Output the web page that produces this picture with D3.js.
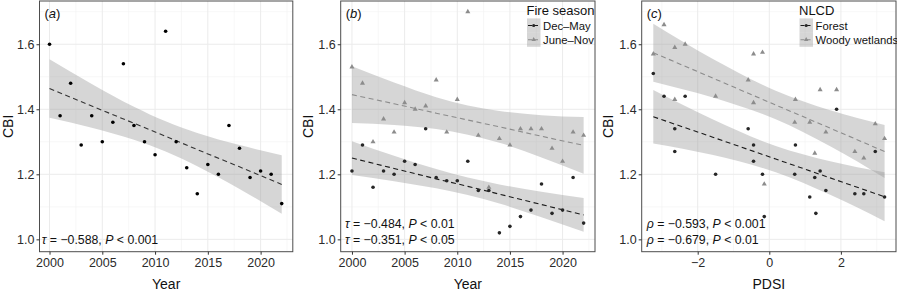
<!DOCTYPE html>
<html>
<head>
<meta charset="utf-8">
<script src="https://cdn.jsdelivr.net/npm/d3@7"></script>
<style>
  body { margin: 0; background: #fff; }
  svg text { font-family: "Liberation Sans", Arial, Helvetica, sans-serif; }
</style>
</head>
<body>
<div id="chart"></div>
<script>
// ---- data ----
const years = [2000, 2001, 2002, 2003, 2004, 2005, 2006, 2007, 2008, 2009, 2010, 2011,
  2012, 2013, 2014, 2015, 2016, 2017, 2018, 2019, 2020, 2021, 2022];

// (a) all fires
const cbiAll = [1.60, 1.38, 1.48, 1.29, 1.38, 1.30, 1.36, 1.54, 1.35, 1.30, 1.26, 1.64,
  1.30, 1.22, 1.14, 1.23, 1.20, 1.35, 1.28, 1.19, 1.21, 1.20, 1.11];

// (b) fire season
const cbiDecMay = [1.21, 1.29, 1.16, 1.21, 1.20, 1.24, 1.23, 1.34, 1.19, 1.18, 1.18, 1.24,
  1.15, 1.15, 1.02, 1.04, 1.07, 1.09, 1.17, 1.08, 1.09, 1.19, 1.05];
const cbiJuneNov = [1.53, 1.48, 1.30, 1.37, 1.33, 1.42, 1.40, 1.41, 1.49, 1.33, 1.43, 1.70,
  1.32, 1.16, 1.31, 1.29, 1.34, 1.34, 1.34, 1.28, 1.24, 1.33, 1.32];

// (c) PDSI vs CBI by land cover
const pdsi = [-3.24, -2.94, -2.64, -2.64, -2.35, -1.50, -0.59, -0.44, -0.44, -0.19, -0.14,
  0.73, 0.71, 1.13, 1.27, 1.30, 1.42, 1.58, 1.88, 2.39, 2.64, 2.96, 3.22];
const cbiForest = [1.51, 1.44, 1.34, 1.27, 1.44, 1.20, 1.34, 1.29, 1.24, 1.20, 1.07,
  1.29, 1.20, 1.13, 1.19, 1.08, 1.21, 1.15, 1.40, 1.14, 1.14, 1.27, 1.13];
const cbiWetland = [1.57, 1.66, 1.59, 1.43, 1.60, 1.44, 1.49, 1.57, 1.42, 1.575, 1.17,
  1.43, 1.36, 1.36, 1.265, null, 1.46, 1.33, 1.46, 1.27, 1.25, 1.355, 1.31];

// fitted trend + confidence band
const fitYears = [2000, 2004, 2008, 2011, 2014, 2018, 2022];
const fitAll = [1.464, 1.410, 1.357, 1.317, 1.276, 1.223, 1.169];
const fitAllLo = [1.374, 1.343, 1.306, 1.270, 1.225, 1.155, 1.079];
const fitAllHi = [1.554, 1.478, 1.408, 1.363, 1.327, 1.290, 1.259];

const fitDecMay = [1.250, 1.218, 1.186, 1.163, 1.139, 1.107, 1.075];
const fitDecMayLo = [1.198, 1.179, 1.157, 1.136, 1.110, 1.068, 1.023];
const fitDecMayHi = [1.302, 1.257, 1.216, 1.190, 1.169, 1.146, 1.127];
const fitJuneNov = [1.445, 1.417, 1.388, 1.367, 1.346, 1.317, 1.289];
const fitJuneNovLo = [1.358, 1.352, 1.339, 1.322, 1.297, 1.252, 1.202];
const fitJuneNovHi = [1.532, 1.482, 1.437, 1.412, 1.395, 1.382, 1.376];

const fitPdsi = [-3.24, -1.6, 0.18, 1.7, 3.22];
const fitForest = [1.377, 1.315, 1.247, 1.189, 1.131];
const fitForestLo = [1.295, 1.260, 1.206, 1.137, 1.056];
const fitForestHi = [1.459, 1.370, 1.287, 1.240, 1.206];
const fitWetland = [1.574, 1.497, 1.413, 1.342, 1.270];
const fitWetlandLo = [1.485, 1.437, 1.369, 1.286, 1.189];
const fitWetlandHi = [1.663, 1.556, 1.457, 1.397, 1.352];

// ticks / labels
const yTicks = [1.0, 1.2, 1.4, 1.6];
const yMinor = [1.1, 1.3, 1.5, 1.7];
const yearTicks = [2000, 2005, 2010, 2015, 2020];
const yearMinor = [2002.5, 2007.5, 2012.5, 2017.5, 2022.5];
const pdsiTicks = [-2, 0, 2];
const pdsiMinor = [-3, -1, 1, 3];

const statsA = [["τ", "−0.588", "0.001"]];
const statsB = [["τ", "−0.484", "0.01"], ["τ", "−0.351", "0.05"]];
const statsC = [["ρ", "−0.593", "0.001"], ["ρ", "−0.679", "0.01"]];

const seasonLabels = ["Dec–May", "June–Nov"];
const coverLabels = ["Forest", "Woody wetlands"];

// ---- drawing ----
const width = 897;
const height = 291;
const plotTop = 1;
const plotBottom = 251.7;

const svg = d3
  .select("#chart")
  .append("svg")
  .attr("width", width)
  .attr("height", height);

const y = d3.scaleLinear().domain([0.962, 1.733]).range([plotBottom, plotTop]);

const dark = "#1a1a1a";
const grey = "#8c8c8c";

function toPoints(xs, ys) {
  return xs.map((d, i) => ({ x: d, y: ys[i] })).filter((d) => d.y != null);
}
function toBand(xs, fit, lo, hi) {
  return xs.map((d, i) => ({ x: d, fit: fit[i], lo: lo[i], hi: hi[i] }));
}

function drawPanel(p) {
  const g = svg.append("g");
  const x = d3.scaleLinear().domain(p.xDomain).range(p.xRange);
  const left = p.xRange[0];
  const right = p.xRange[1];

  // grid
  g.selectAll(".minorx")
    .data(p.xMinor.filter((d) => x(d) < right))
    .enter()
    .append("line")
    .attr("x1", (d) => x(d))
    .attr("x2", (d) => x(d))
    .attr("y1", plotTop)
    .attr("y2", plotBottom)
    .attr("stroke", "#f2f2f2")
    .attr("stroke-width", 0.6);
  g.selectAll(".minory")
    .data(yMinor)
    .enter()
    .append("line")
    .attr("x1", left)
    .attr("x2", right)
    .attr("y1", (d) => y(d))
    .attr("y2", (d) => y(d))
    .attr("stroke", "#f2f2f2")
    .attr("stroke-width", 0.6);
  g.selectAll(".majorx")
    .data(p.xTicks)
    .enter()
    .append("line")
    .attr("x1", (d) => x(d))
    .attr("x2", (d) => x(d))
    .attr("y1", plotTop)
    .attr("y2", plotBottom)
    .attr("stroke", "#ebebeb")
    .attr("stroke-width", 1);
  g.selectAll(".majory")
    .data(yTicks)
    .enter()
    .append("line")
    .attr("x1", left)
    .attr("x2", right)
    .attr("y1", (d) => y(d))
    .attr("y2", (d) => y(d))
    .attr("stroke", "#ebebeb")
    .attr("stroke-width", 1);

  const area = d3
    .area()
    .x((d) => x(d.x))
    .y0((d) => y(d.lo))
    .y1((d) => y(d.hi))
    .curve(d3.curveMonotoneX);
  const line = d3
    .line()
    .x((d) => x(d.x))
    .y((d) => y(d.fit));

  // ribbons
  p.series.forEach((s) => {
    g.append("path")
      .datum(s.band)
      .attr("fill", "#999999")
      .attr("fill-opacity", 0.4)
      .attr("d", area);
  });

  // stats text
  p.stats.forEach((st, i) => {
    const t = g
      .append("text")
      .attr("x", left + p.statDx)
      .attr("y", y(1.0 + 0.049 * (p.stats.length - 1 - i)))
      .attr("dy", "0.36em")
      .attr("font-size", 12.3)
      .attr("fill", "#111");
    t.append("tspan").attr("font-style", "italic").text(st[0]);
    t.append("tspan").text(" = " + st[1] + ", ");
    t.append("tspan").attr("font-style", "italic").text("P");
    t.append("tspan").text(" < " + st[2]);
  });

  // trend lines + points
  p.series.forEach((s) => {
    g.append("path")
      .datum(s.band)
      .attr("fill", "none")
      .attr("stroke", s.lineColor)
      .attr("stroke-width", 1.1)
      .attr("stroke-dasharray", "5,3.5")
      .attr("d", line);

    if (s.shape === "triangle") {
      g.selectAll(null)
        .data(s.points)
        .enter()
        .append("path")
        .attr("d", d3.symbol().type(d3.symbolTriangle).size(11))
        .attr("transform", (d) => `translate(${x(d.x)},${y(d.y)})`)
        .attr("fill", s.pointColor);
    } else {
      g.selectAll(null)
        .data(s.points)
        .enter()
        .append("circle")
        .attr("cx", (d) => x(d.x))
        .attr("cy", (d) => y(d.y))
        .attr("r", 1.8)
        .attr("fill", s.pointColor);
    }
  });

  // panel border
  g.append("rect")
    .attr("x", left)
    .attr("y", plotTop)
    .attr("width", right - left)
    .attr("height", plotBottom - plotTop)
    .attr("fill", "none")
    .attr("stroke", "#4d4d4d")
    .attr("stroke-width", 1);

  // tag
  const tag = g
    .append("text")
    .attr("x", left + 5)
    .attr("y", 18)
    .attr("font-size", 13)
    .attr("fill", "#111");
  tag.append("tspan").text("(");
  tag.append("tspan").attr("font-style", "italic").text(p.tag);
  tag.append("tspan").text(")");

  // axes
  const yAxis = g
    .append("g")
    .attr("transform", `translate(${left},0)`)
    .call(d3.axisLeft(y).tickValues(yTicks).tickFormat(d3.format(".1f")).tickSize(3).tickPadding(2));
  const xAxis = g
    .append("g")
    .attr("transform", `translate(0,${plotBottom})`)
    .call(d3.axisBottom(x).tickValues(p.xTicks).tickFormat(d3.format("d")).tickSize(3).tickPadding(3));
  [yAxis, xAxis].forEach((a) => {
    a.select(".domain").remove();
    a.selectAll(".tick line").attr("stroke", "#333");
    a.selectAll(".tick text")
      .attr("font-size", 12.5)
      .attr("fill", "#2b2b2b")
      .attr("font-family", '"Liberation Sans", Arial, sans-serif');
  });

  g.append("text")
    .attr("x", (left + right) / 2)
    .attr("y", 289)
    .attr("text-anchor", "middle")
    .attr("font-size", 14)
    .attr("fill", "#111")
    .text(p.xTitle);
  g.append("text")
    .attr("transform", `translate(${p.yTitleX},${(plotTop + plotBottom) / 2}) rotate(-90)`)
    .attr("text-anchor", "middle")
    .attr("font-size", 14)
    .attr("fill", "#111")
    .text("CBI");

  // legend
  if (p.legend) {
    const lg = g.append("g").attr("transform", `translate(${p.legend.x},0)`);
    lg.append("text")
      .attr("x", 0)
      .attr("y", 15)
      .attr("font-size", 13)
      .attr("fill", "#111")
      .text(p.legend.title);
    p.series.forEach((s, i) => {
      const cy = 25.5 + i * 14.2;
      lg.append("rect")
        .attr("x", 0.5)
        .attr("y", cy - 7.1)
        .attr("width", 13.5)
        .attr("height", 14.2)
        .attr("fill", "#999999")
        .attr("fill-opacity", 0.4);
      lg.append("line")
        .attr("x1", 1.5)
        .attr("x2", 13)
        .attr("y1", cy)
        .attr("y2", cy)
        .attr("stroke", s.lineColor)
        .attr("stroke-width", 1.1)
        .attr("stroke-dasharray", "4,2");
      if (s.shape === "triangle") {
        lg.append("path")
          .attr("d", d3.symbol().type(d3.symbolTriangle).size(9))
          .attr("transform", `translate(7.2,${cy})`)
          .attr("fill", s.pointColor);
      } else {
        lg.append("circle").attr("cx", 7.2).attr("cy", cy).attr("r", 1.6).attr("fill", s.pointColor);
      }
      lg.append("text")
        .attr("x", 16.5)
        .attr("y", cy)
        .attr("dy", "0.36em")
        .attr("font-size", 11.3)
        .attr("fill", "#111")
        .text(p.legend.labels[i]);
    });
  }
}

drawPanel({
  tag: "a",
  xDomain: [1999.05, 2023.05],
  xRange: [39.5, 292.8],
  xTicks: yearTicks,
  xMinor: yearMinor,
  xTitle: "Year",
  yTitleX: 13,
  statDx: 2.3,
  stats: statsA,
  series: [
    {
      points: toPoints(years, cbiAll),
      band: toBand(fitYears, fitAll, fitAllLo, fitAllHi),
      shape: "circle",
      pointColor: "#000",
      lineColor: "#333"
    }
  ]
});

drawPanel({
  tag: "b",
  xDomain: [1998.93, 2023.08],
  xRange: [340.7, 595],
  xTicks: yearTicks,
  xMinor: yearMinor,
  xTitle: "Year",
  yTitleX: 313,
  statDx: 4.3,
  stats: statsB,
  legend: { x: 526.5, title: "Fire season", labels: seasonLabels },
  series: [
    {
      points: toPoints(years, cbiDecMay),
      band: toBand(fitYears, fitDecMay, fitDecMayLo, fitDecMayHi),
      shape: "circle",
      pointColor: "#262626",
      lineColor: dark
    },
    {
      points: toPoints(years, cbiJuneNov),
      band: toBand(fitYears, fitJuneNov, fitJuneNovLo, fitJuneNovHi),
      shape: "triangle",
      pointColor: grey,
      lineColor: grey
    }
  ]
});

drawPanel({
  tag: "c",
  xDomain: [-3.564, 3.539],
  xRange: [641.7, 896],
  xTicks: pdsiTicks,
  xMinor: pdsiMinor,
  xTitle: "PDSI",
  yTitleX: 613,
  statDx: 5,
  stats: statsC,
  legend: { x: 799, title: "NLCD", labels: coverLabels },
  series: [
    {
      points: toPoints(pdsi, cbiForest),
      band: toBand(fitPdsi, fitForest, fitForestLo, fitForestHi),
      shape: "circle",
      pointColor: "#262626",
      lineColor: dark
    },
    {
      points: toPoints(pdsi, cbiWetland),
      band: toBand(fitPdsi, fitWetland, fitWetlandLo, fitWetlandHi),
      shape: "triangle",
      pointColor: grey,
      lineColor: grey
    }
  ]
});
</script>
</body>
</html>
